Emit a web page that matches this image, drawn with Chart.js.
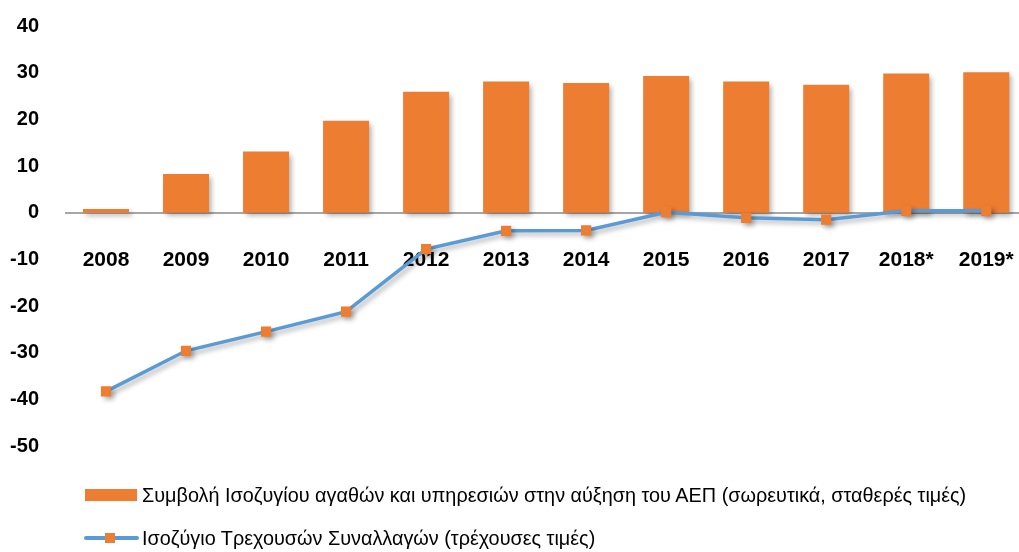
<!DOCTYPE html>
<html>
<head>
<meta charset="utf-8">
<script src="https://cdn.jsdelivr.net/npm/chart.js@4"></script>
<style>
    html, body { margin: 0; padding: 0; background: #fff; overflow: hidden; }
    #wrap { position: relative; width: 1019px; height: 552px; overflow: hidden; }
    #c { position: absolute; left: 0; top: -13px; }
    .legend-row {
        position: absolute; left: 84px; height: 24px;
        font-family: 'Liberation Sans', Arial, sans-serif;
        font-size: 21px; color: #000; white-space: nowrap;
    }
    .legend-row span.txt {
        position: absolute; left: 58px; top: 0; line-height: 24px;
        transform: scaleX(0.944); transform-origin: left center;
    }
    .swatch-bar { position: absolute; left: 1px; top: 6px; width: 52px; height: 12px; background: #ED7D31; }
    .swatch-line { position: absolute; left: 0; top: 10px; width: 55px; height: 4px; background: #5B9BD5; border-radius: 2px; }
    .swatch-mark { position: absolute; left: 21px; top: 7px; width: 10px; height: 10px; background: #ED7D31; }
</style>
</head>
<body>
<div id="wrap">
    <canvas id="c" width="1041" height="565"></canvas>
    <div class="legend-row" style="top:483px">
        <div class="swatch-bar"></div>
        <span class="txt">Συμβολή Ισοζυγίου αγαθών και υπηρεσιών στην αύξηση του ΑΕΠ (σωρευτικά, σταθερές τιμές)</span>
    </div>
    <div class="legend-row" style="top:526px">
        <div class="swatch-line"></div>
        <div class="swatch-mark"></div>
        <span class="txt">Ισοζύγιο Τρεχουσών Συναλλαγών (τρέχουσες τιμές)</span>
    </div>
</div>
<script>
// Data
const years = ['2008', '2009', '2010', '2011', '2012', '2013', '2014', '2015', '2016', '2017', '2018*', '2019*'];
const tradeContribution = [0.8, 8.3, 13.1, 19.7, 25.9, 28.1, 27.8, 29.3, 28.1, 27.4, 29.8, 30.1];
const currentAccount = [-38.3, -29.6, -25.5, -21.2, -7.8, -3.9, -3.8, 0.1, -1.1, -1.5, 0.4, 0.4];
const yMin = -50, yMax = 40, yStep = 10;

const orange = '#ED7D31';
const blue = '#5B9BD5';
const sans = "'Liberation Sans', Arial, sans-serif";

// soft drop shadow under bars and line, like the office chart
const shadowPlugin = {
    id: 'shadow',
    beforeDatasetDraw(chart) {
        const ctx = chart.ctx;
        ctx.save();
        ctx.shadowColor = 'rgba(0, 0, 0, 0.3)';
        ctx.shadowBlur = 5;
        ctx.shadowOffsetX = 3;
        ctx.shadowOffsetY = 3;
    },
    afterDatasetDraw(chart) {
        chart.ctx.restore();
    }
};

new Chart(document.getElementById('c'), {
    type: 'bar',
    data: {
        labels: years,
        datasets: [
            {
                type: 'line',
                label: 'Ισοζύγιο Τρεχουσών Συναλλαγών (τρέχουσες τιμές)',
                data: currentAccount,
                borderColor: blue,
                borderWidth: 3.5,
                pointStyle: 'rect',
                pointRadius: 7.2,
                pointBackgroundColor: orange,
                pointBorderColor: orange,
                pointBorderWidth: 0,
                tension: 0,
                order: 0
            },
            {
                label: 'Συμβολή Ισοζυγίου αγαθών και υπηρεσιών στην αύξηση του ΑΕΠ (σωρευτικά, σταθερές τιμές)',
                data: tradeContribution,
                backgroundColor: orange,
                borderWidth: 0,
                categoryPercentage: 1,
                barPercentage: 0.575,
                order: 1
            }
        ]
    },
    options: {
        responsive: false,
        animation: false,
        devicePixelRatio: 1,
        layout: { padding: { top: 0, bottom: 106, right: 0, left: 0 } },
        plugins: {
            legend: { display: false },
            tooltip: { enabled: false }
        },
        scales: {
            x: {
                type: 'category',
                offset: true,
                position: { y: 0 },
                grid: { display: false },
                border: { display: true, color: '#A6A6A6', width: 2 },
                ticks: {
                    color: '#000',
                    padding: 27,
                    maxRotation: 0,
                    autoSkip: false,
                    font: { family: sans, size: 21, weight: 'bold' }
                }
            },
            y: {
                min: yMin,
                max: yMax,
                afterFit: s => { s.width = 66; },
                grid: { display: false, drawTicks: false },
                border: { display: false },
                ticks: {
                    stepSize: yStep,
                    color: '#000',
                    padding: 27,
                    font: { family: sans, size: 20, weight: 'bold' }
                }
            }
        }
    },
    plugins: [shadowPlugin]
});
</script>
</body>
</html>
